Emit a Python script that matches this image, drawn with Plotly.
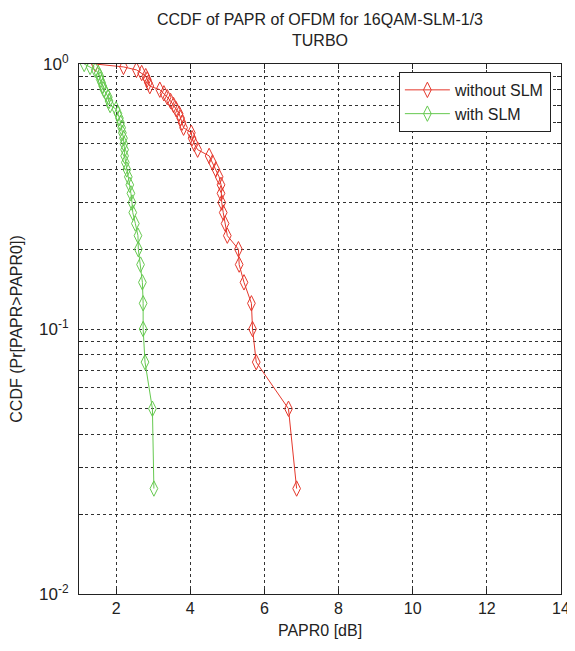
import plotly.graph_objects as go

# CCDF levels (k/40)
ccdf = [1.0, 0.975, 0.95, 0.925, 0.9, 0.875, 0.85, 0.825, 0.8, 0.775,
        0.75, 0.725, 0.7, 0.675, 0.65, 0.625, 0.6, 0.575, 0.55, 0.525,
        0.5, 0.475, 0.45, 0.425, 0.4, 0.375, 0.35, 0.325, 0.3, 0.275,
        0.25, 0.225, 0.2, 0.175, 0.15, 0.125, 0.1, 0.075, 0.05, 0.025]

papr_without_slm = [1.44, 2.20, 2.55, 2.69, 2.80, 2.84, 2.87, 2.91, 3.18, 3.29,
                    3.38, 3.47, 3.55, 3.62, 3.70, 3.74, 3.78, 3.82, 4.03, 4.05,
                    4.11, 4.20, 4.51, 4.60, 4.69, 4.78, 4.83, 4.83, 4.85, 4.89,
                    4.94, 5.00, 5.30, 5.32, 5.45, 5.65, 5.68, 5.78, 6.65, 6.87]

papr_with_slm = [1.14, 1.30, 1.44, 1.52, 1.56, 1.57, 1.61, 1.64, 1.67, 1.73,
                 1.79, 1.81, 1.84, 2.00, 2.05, 2.09, 2.12, 2.15, 2.17, 2.20,
                 2.21, 2.23, 2.23, 2.25, 2.29, 2.33, 2.37, 2.40, 2.43, 2.45,
                 2.52, 2.59, 2.60, 2.66, 2.71, 2.73, 2.73, 2.78, 2.98, 3.02]

x_ticks = [2, 4, 6, 8, 10, 12, 14]
y_tickvals = [0.01, 0.02, 0.03, 0.04, 0.05, 0.06, 0.07, 0.08, 0.09,
              0.1, 0.2, 0.3, 0.4, 0.5, 0.6, 0.7, 0.8, 0.9, 1.0]
y_ticktext = ["10<sup>-2</sup>", "", "", "", "", "", "", "", "",
              "10<sup>-1</sup>", "", "", "", "", "", "", "", "",
              "10<sup>0</sup>"]

RED = "#e5382c"
GREEN = "#66c950"
FONT = "Liberation Sans, Arial, sans-serif"

fig = go.Figure()
fig.add_trace(go.Scatter(
    x=papr_without_slm, y=ccdf, mode="lines+markers", name="without SLM",
    line=dict(color=RED, width=1),
    marker=dict(symbol="diamond-tall-open", size=11, color=RED, line=dict(width=1, color=RED)),
))
fig.add_trace(go.Scatter(
    x=papr_with_slm, y=ccdf, mode="lines+markers", name="with SLM",
    line=dict(color=GREEN, width=1),
    marker=dict(symbol="diamond-tall-open", size=11, color=GREEN, line=dict(width=1, color=GREEN)),
))

fig.update_layout(
    width=567, height=643,
    margin=dict(l=71, r=14, t=56, b=57),
    paper_bgcolor="white", plot_bgcolor="white",
    font=dict(family=FONT, size=15, color="#222"),
    title=dict(text="CCDF of PAPR of OFDM for 16QAM-SLM-1/3<br>TURBO",
               x=0.5, xref="paper", xanchor="center",
               y=0.9736, yref="container", yanchor="top",
               font=dict(family=FONT, size=16, color="#222")),
    legend=dict(x=0.979, y=0.985, xanchor="right", yanchor="top",
                bordercolor="#222", borderwidth=1, bgcolor="white",
                font=dict(family=FONT, size=16, color="#222"),
                tracegroupgap=0, itemwidth=45),
    showlegend=True,
)

fig.update_xaxes(
    range=[1, 14], tickvals=x_ticks, ticktext=[str(v) for v in x_ticks],
    showline=True, linecolor="#222", linewidth=1, mirror="ticks",
    ticks="inside", ticklen=5, tickcolor="#222",
    showgrid=True, gridcolor="#333", gridwidth=1, griddash="3px,3px",
    zeroline=False, automargin=False,
    title=dict(text="PAPR0 [dB]", font=dict(family=FONT, size=16, color="#222"), standoff=8),
    tickfont=dict(family=FONT, size=16, color="#222"),
)
fig.update_yaxes(
    type="log", range=[-2, 0],
    tickvals=y_tickvals, ticktext=y_ticktext,
    showline=True, linecolor="#222", linewidth=1, mirror="ticks",
    ticks="inside", ticklen=4, tickcolor="#222",
    showgrid=True, gridcolor="#333", gridwidth=1, griddash="3px,3px",
    zeroline=False, automargin=False, ticklabelstandoff=6,
    title=dict(text="CCDF (Pr[PAPR>PAPR0])", font=dict(family=FONT, size=16, color="#222"), standoff=19),
    tickfont=dict(family=FONT, size=17, color="#222"),
)

fig.write_html("out.html")
